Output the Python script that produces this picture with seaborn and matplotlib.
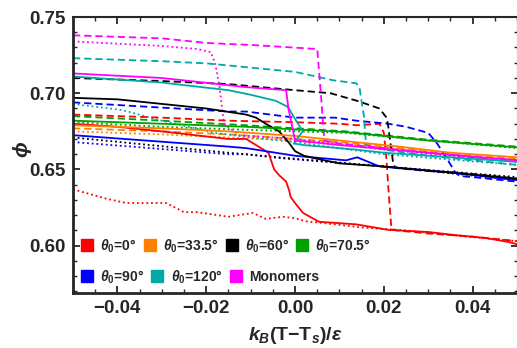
import numpy as np
import pandas as pd
import matplotlib
matplotlib.use("Agg")
import matplotlib.pyplot as plt
import seaborn as sns
from matplotlib.lines import Line2D

# ---------------- data ----------------
red_solid_x = [-0.05, -0.04, -0.03, -0.015, -0.011, -0.006, -0.0047, -0.0035, -0.002, -0.0013, -0.001, 0.0, 0.0018, 0.0054, 0.009, 0.0138, 0.021, 0.03, 0.036, 0.043, 0.048, 0.05]
red_solid_y = [0.680, 0.678, 0.675, 0.670, 0.670, 0.661, 0.650, 0.646, 0.642, 0.636, 0.632, 0.628, 0.6215, 0.6157, 0.615, 0.614, 0.6104, 0.609, 0.607, 0.605, 0.6025, 0.601]
red_dash_x = [-0.05, -0.04, -0.03, -0.015, 0.0, 0.010, 0.0138, 0.019, 0.020, 0.0206, 0.021, 0.0217, 0.023, 0.03, 0.04, 0.05]
red_dash_y = [0.686, 0.685, 0.684, 0.682, 0.681, 0.680, 0.679, 0.680, 0.674, 0.656, 0.638, 0.611, 0.610, 0.608, 0.606, 0.603]
red_dot_x = [-0.05, -0.0427, -0.038, -0.029, -0.025, -0.022, -0.015, -0.0095, -0.0066, -0.0027, 0.0, 0.0025, 0.006, 0.015, 0.025, 0.035, 0.05]
red_dot_y = [0.637, 0.631, 0.628, 0.628, 0.622, 0.622, 0.619, 0.6215, 0.6176, 0.619, 0.618, 0.616, 0.615, 0.612, 0.610, 0.607, 0.603]

orange_x = [-0.05, -0.03, -0.015, 0.0, 0.01, 0.0235, 0.035, 0.05]
orange_solid_y = [0.679, 0.677, 0.675, 0.672, 0.669, 0.665, 0.661, 0.658]
orange_dash_y = [0.677, 0.675, 0.673, 0.670, 0.668, 0.664, 0.660, 0.657]
orange_dot_y = [0.675, 0.673, 0.671, 0.669, 0.667, 0.663, 0.659, 0.656]

black_solid_x = [-0.05, -0.04, -0.03, -0.02, -0.011, -0.0088, -0.0066, -0.0036, -0.0015, 0.0, 0.002, 0.005, 0.01, 0.02, 0.035, 0.05]
black_solid_y = [0.697, 0.696, 0.693, 0.690, 0.686, 0.684, 0.680, 0.675, 0.668, 0.662, 0.659, 0.657, 0.654, 0.652, 0.648, 0.644]
black_dash_x = [-0.05, -0.03, -0.015, 0.0, 0.008, 0.014, 0.019, 0.0206, 0.021, 0.022, 0.0225, 0.03, 0.04, 0.05]
black_dash_y = [0.710, 0.708, 0.706, 0.702, 0.700, 0.695, 0.690, 0.684, 0.678, 0.656, 0.651, 0.649, 0.647, 0.644]
black_dot_x = [-0.05, -0.036, -0.015, 0.0, 0.02, 0.05]
black_dot_y = [0.671, 0.667, 0.661, 0.657, 0.652, 0.645]

green_x = [-0.05, -0.03, -0.011, 0.0115, 0.03, 0.05]
green_solid_y = [0.682, 0.680, 0.678, 0.6745, 0.669, 0.6645]
green_dash_y = [0.685, 0.682, 0.679, 0.675, 0.6695, 0.665]
green_dot_y = [0.681, 0.678, 0.676, 0.674, 0.669, 0.664]

blue_solid_x = [-0.05, -0.015, -0.011, 0.0, 0.0115, 0.014, 0.019, 0.035, 0.05]
blue_solid_y = [0.6725, 0.665, 0.664, 0.659, 0.656, 0.658, 0.652, 0.648, 0.643]
blue_dash_x = [-0.05, -0.015, -0.011, 0.0, 0.009, 0.0138, 0.021, 0.025, 0.030, 0.032, 0.034, 0.036, 0.037, 0.04, 0.05]
blue_dash_y = [0.694, 0.688, 0.688, 0.684, 0.684, 0.682, 0.680, 0.678, 0.674, 0.667, 0.658, 0.6485, 0.6457, 0.645, 0.642]
blue_dot_x = [-0.05, -0.015, -0.011, -0.0036, 0.02, 0.05]
blue_dot_y = [0.668, 0.660, 0.660, 0.6575, 0.652, 0.643]

cyan_solid_x = [-0.05, -0.03, -0.015, -0.01, -0.0043, -0.0016, 0.0017, -0.0003, 0.002, 0.006, 0.0138, 0.02, 0.04, 0.05]
cyan_solid_y = [0.711, 0.707, 0.702, 0.699, 0.695, 0.691, 0.675, 0.667, 0.666, 0.665, 0.663, 0.661, 0.657, 0.655]
cyan_dash_x = [-0.05, -0.03, -0.02, 0.0, 0.0086, 0.0138, 0.0145, 0.0155, 0.016, 0.02, 0.03, 0.04, 0.05]
cyan_dash_y = [0.723, 0.721, 0.7196, 0.714, 0.7085, 0.7065, 0.704, 0.685, 0.666, 0.663, 0.659, 0.656, 0.653]
cyan_dot_x = [-0.05, -0.039, -0.03, -0.018, -0.01, 0.0, 0.02, 0.05]
cyan_dot_y = [0.693, 0.689, 0.682, 0.674, 0.671, 0.668, 0.660, 0.653]

mag_solid_x = [-0.05, -0.03, -0.011, -0.002, -0.0015, 0.0, 0.01, 0.03, 0.05]
mag_solid_y = [0.713, 0.710, 0.704, 0.702, 0.690, 0.669, 0.666, 0.661, 0.656]
mag_dash_x = [-0.05, -0.03, -0.02, -0.009, 0.005, 0.0058, 0.0066, 0.01, 0.02, 0.04, 0.05]
mag_dash_y = [0.738, 0.736, 0.733, 0.7315, 0.729, 0.700, 0.669, 0.667, 0.664, 0.658, 0.656]
mag_dot_x = [-0.05, -0.03, -0.022, -0.019, -0.018, -0.017, -0.016, -0.0126, 0.0, 0.02, 0.05]
mag_dot_y = [0.734, 0.731, 0.729, 0.727, 0.720, 0.704, 0.680, 0.6725, 0.670, 0.663, 0.655]

legend_labels = [r"$\theta_0$=0°", r"$\theta_0$=33.5°", r"$\theta_0$=60°", r"$\theta_0$=70.5°",
                 r"$\theta_0$=90°", r"$\theta_0$=120°", "Monomers"]
x_ticks = [-0.04, -0.02, 0.00, 0.02, 0.04]
x_ticklabels = ["\u22120.04", "\u22120.02", "0.00", "0.02", "0.04"]
y_ticks = [0.60, 0.65, 0.70, 0.75]
y_ticklabels = ["0.60", "0.65", "0.70", "0.75"]

# ---------------- style ----------------
sns.set_style("ticks")
plt.rcParams["font.family"] = ["Liberation Sans", "DejaVu Sans"]
plt.rcParams["font.weight"] = "bold"
plt.rcParams["mathtext.fontset"] = "custom"
plt.rcParams["mathtext.it"] = "Liberation Sans:italic:bold"
plt.rcParams["mathtext.rm"] = "Liberation Sans:bold"
plt.rcParams["mathtext.bf"] = "Liberation Sans:bold"

RED = "#ff0000"
ORANGE = "#ff8000"
BLACK = "#000000"
GREEN = "#00a000"
BLUE = "#0000ff"
CYAN = "#00a8a8"
MAGENTA = "#ff00ff"

SOLID = "-"
DASH = (0, (4, 2.2))
DOT = (0, (1, 1.6))

W, H = 517, 348
fig = plt.figure(figsize=(W / 100, H / 100), dpi=100)
ax = fig.add_axes([73 / W, 1 - 293 / H, (518 - 73) / W, 276 / H])

series = [
    (orange_x, orange_dot_y, ORANGE, DOT),
    (orange_x, orange_dash_y, ORANGE, DASH),
    (green_x, green_dot_y, GREEN, DOT),
    (green_x, green_dash_y, GREEN, DASH),
    (cyan_dot_x, cyan_dot_y, CYAN, DOT),
    (blue_dot_x, blue_dot_y, BLUE, DOT),
    (black_dot_x, black_dot_y, BLACK, DOT),
    (red_dot_x, red_dot_y, RED, DOT),
    (mag_dot_x, mag_dot_y, MAGENTA, DOT),
    (red_dash_x, red_dash_y, RED, DASH),
    (blue_dash_x, blue_dash_y, BLUE, DASH),
    (black_dash_x, black_dash_y, BLACK, DASH),
    (cyan_dash_x, cyan_dash_y, CYAN, DASH),
    (mag_dash_x, mag_dash_y, MAGENTA, DASH),
    (red_solid_x, red_solid_y, RED, SOLID),
    (blue_solid_x, blue_solid_y, BLUE, SOLID),
    (black_solid_x, black_solid_y, BLACK, SOLID),
    (green_x, green_solid_y, GREEN, SOLID),
    (orange_x, orange_solid_y, ORANGE, SOLID),
    (cyan_solid_x, cyan_solid_y, CYAN, SOLID),
    (mag_solid_x, mag_solid_y, MAGENTA, SOLID),
]

for xs, ys, col, ls in series:
    df = pd.DataFrame({"x": xs, "y": ys})
    sns.lineplot(data=df, x="x", y="y", sort=False, estimator=None, color=col,
                 linestyle=ls, linewidth=1.3, ax=ax, legend=False)

ax.set_xlim(-0.05, 0.0502)
ax.set_ylim(0.569, 0.75)
ax.set_xticks(x_ticks)
ax.set_xticklabels(x_ticklabels)
ax.set_yticks(y_ticks)
ax.set_yticklabels(y_ticklabels)
ax.set_xticks(np.arange(-0.05, 0.0501, 0.005), minor=True)
ax.set_yticks(np.arange(0.57, 0.7501, 0.01), minor=True)
ax.tick_params(which="both", direction="in", top=True, right=True, labelsize=13.5, pad=5)
ax.tick_params(which="major", length=5, width=1.3)
ax.tick_params(which="minor", length=3, width=1.0)
for lab in ax.get_xticklabels() + ax.get_yticklabels():
    lab.set_fontweight("bold")
for side in ["left", "bottom"]:
    ax.spines[side].set_linewidth(2.0)
for side in ["top", "right"]:
    ax.spines[side].set_linewidth(1.5)

ax.set_xlabel(r"$k_B$(T$-$T$_s$)/$\epsilon$", fontsize=14, fontweight="bold", labelpad=6)
ax.set_ylabel(r"$\phi$", fontsize=15, fontweight="bold")
ax.yaxis.set_label_coords(-0.088, 0.52)

colors = [RED, ORANGE, BLACK, GREEN, BLUE, CYAN, MAGENTA]
handles = [Line2D([], [], marker="s", linestyle="none", markersize=9,
                  markerfacecolor=c, markeredgecolor=c) for c in colors]
leg_kw = dict(loc="center left", frameon=False, prop={"weight": "bold", "size": 10},
              handlelength=1.0, handletextpad=0.45, columnspacing=0.45, borderpad=0.0,
              borderaxespad=0.0)
# two independent rows, like the reference (items flow left to right)
fig.legend(handles[:4], legend_labels[:4], ncol=4, bbox_to_anchor=(80 / W, 1 - 246 / H), **leg_kw)
fig.legend(handles[4:], legend_labels[4:], ncol=3, bbox_to_anchor=(80 / W, 1 - 277 / H), **leg_kw)

fig.savefig("out.png", dpi=100)
